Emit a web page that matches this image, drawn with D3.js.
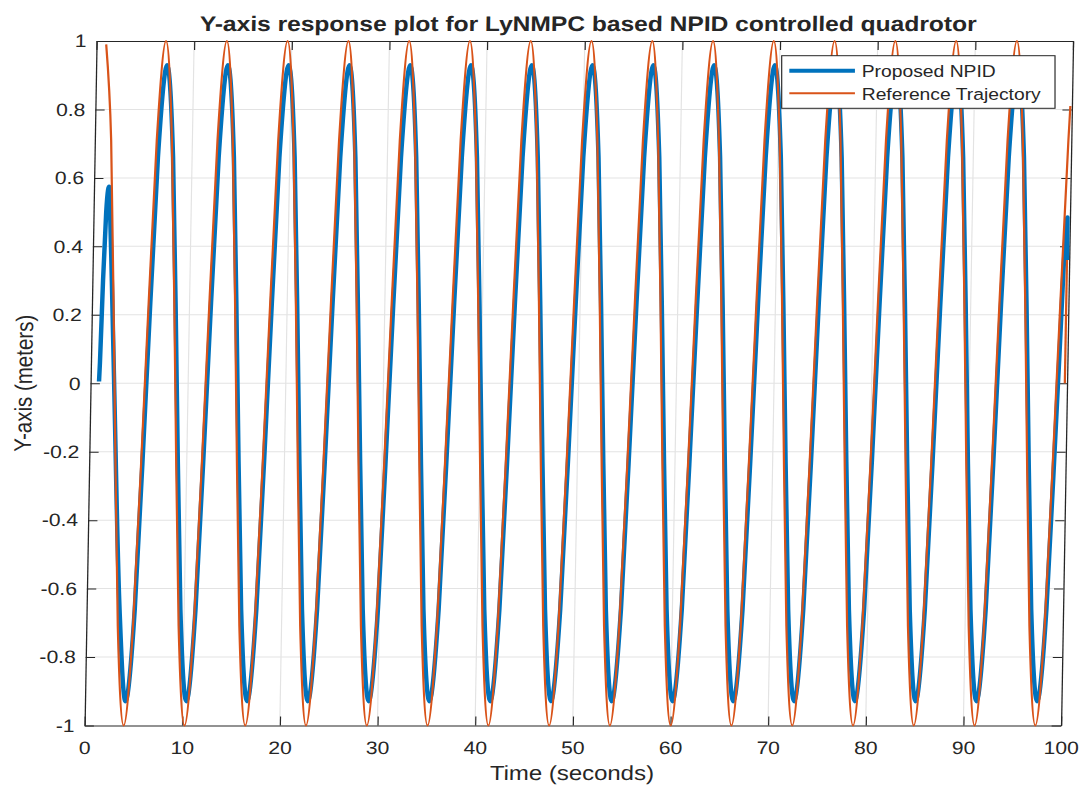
<!DOCTYPE html>
<html>
<head>
<meta charset="utf-8">
<script src="https://cdn.jsdelivr.net/npm/d3@7"></script>
<style>
  html, body { margin: 0; padding: 0; background: #ffffff; }
  svg { display: block; }
  text { font-family: "Liberation Sans", Arial, Helvetica, sans-serif; fill: #262626; }
</style>
</head>
<body>
<svg id="chart" width="1081" height="787"></svg>
<script>
// ---------------- data ----------------
const titleText = "Y-axis response plot for LyNMPC based NPID controlled quadrotor";
const xLabel = "Time (seconds)";
const yLabel = "Y-axis (meters)";
const seriesNames = ["Proposed NPID", "Reference Trajectory"];
const seriesColors = ["#0072BD", "#D95319"];

const xTicks = [0, 10, 20, 30, 40, 50, 60, 70, 80, 90, 100];
const xTickLabels = ["0", "10", "20", "30", "40", "50", "60", "70", "80", "90", "100"];
const yTicks = [-1, -0.8, -0.6, -0.4, -0.2, 0, 0.2, 0.4, 0.6, 0.8, 1];
const yTickLabels = ["-1", "-0.8", "-0.6", "-0.4", "-0.2", "0", "0.2", "0.4", "0.6", "0.8", "1"];

// Reference trajectory (peaks, troughs, crossings and mid points)
const refT = [1.00,
  1.68, 2.46, 3.23, 4.01, 4.79, 5.57, 6.35, 7.12, 7.90, 8.68, 9.46, 10.24, 11.01, 11.79, 12.57, 13.35,
  14.13, 14.90, 15.68, 16.46, 17.24, 18.02, 18.79, 19.57, 20.35, 21.13, 21.91, 22.68, 23.46, 24.24, 25.02, 25.80,
  26.57, 27.35, 28.13, 28.91, 29.69, 30.46, 31.24, 32.02, 32.80, 33.58, 34.35, 35.13, 35.91, 36.69, 37.47, 38.24,
  39.02, 39.80, 40.58, 41.36, 42.13, 42.91, 43.69, 44.47, 45.25, 46.02, 46.80, 47.58, 48.36, 49.14, 49.91, 50.69,
  51.47, 52.25, 53.03, 53.80, 54.58, 55.36, 56.14, 56.92, 57.69, 58.47, 59.25, 60.03, 60.81, 61.58, 62.36, 63.14,
  63.92, 64.70, 65.47, 66.25, 67.03, 67.81, 68.59, 69.36, 70.14, 70.92, 71.70, 72.48, 73.25, 74.03, 74.81, 75.59,
  76.37, 77.14, 77.92, 78.70, 79.48, 80.26, 81.03, 81.81, 82.59, 83.37, 84.15, 84.92, 85.70, 86.48, 87.26, 88.04,
  88.81, 89.59, 90.37, 91.15, 91.93, 92.70, 93.48, 94.26, 95.04, 95.82, 96.59, 97.37, 98.15, 98.93, 99.71,
  99.85];
const refY = [0.99,
  0.71, 0, -0.71, -1, -0.71, 0, 0.71, 1,
  0.71, 0, -0.71, -1, -0.71, 0, 0.71, 1,
  0.71, 0, -0.71, -1, -0.71, 0, 0.71, 1,
  0.71, 0, -0.71, -1, -0.71, 0, 0.71, 1,
  0.71, 0, -0.71, -1, -0.71, 0, 0.71, 1,
  0.71, 0, -0.71, -1, -0.71, 0, 0.71, 1,
  0.71, 0, -0.71, -1, -0.71, 0, 0.71, 1,
  0.71, 0, -0.71, -1, -0.71, 0, 0.71, 1,
  0.71, 0, -0.71, -1, -0.71, 0, 0.71, 1,
  0.71, 0, -0.71, -1, -0.71, 0, 0.71, 1,
  0.71, 0, -0.71, -1, -0.71, 0, 0.71, 1,
  0.71, 0, -0.71, -1, -0.71, 0, 0.71, 1,
  0.71, 0, -0.71, -1, -0.71, 0, 0.71, 1,
  0.71, 0, -0.71, -1, -0.71, 0, 0.71, 1,
  0.71, 0, -0.71, -1, -0.71, 0, 0.71, 1,
  0.71, 0, -0.71, -1, -0.71, 0, 0.71,
  0.81];
const refTailT = [99.78, 99.78];
const refTailY = [0.36, 0.0];

// Proposed NPID response
const npidT = [0.87, 0.93, 1.10, 1.30, 1.45, 1.55, 1.70, 2.00, 2.42,
  3.38, 4.16, 4.94, 5.72, 6.50, 7.27, 8.05, 8.83, 9.61, 10.39, 11.16, 11.94, 12.72, 13.50, 14.28, 15.05,
  15.83, 16.61, 17.39, 18.17, 18.94, 19.72, 20.50, 21.28, 22.06, 22.83, 23.61, 24.39, 25.17, 25.95, 26.72, 27.50,
  28.28, 29.06, 29.84, 30.61, 31.39, 32.17, 32.95, 33.73, 34.50, 35.28, 36.06, 36.84, 37.62, 38.39, 39.17, 39.95,
  40.73, 41.51, 42.28, 43.06, 43.84, 44.62, 45.40, 46.17, 46.95, 47.73, 48.51, 49.29, 50.06, 50.84, 51.62, 52.40,
  53.18, 53.95, 54.73, 55.51, 56.29, 57.07, 57.84, 58.62, 59.40, 60.18, 60.96, 61.73, 62.51, 63.29, 64.07, 64.85,
  65.62, 66.40, 67.18, 67.96, 68.74, 69.51, 70.29, 71.07, 71.85, 72.63, 73.40, 74.18, 74.96, 75.74, 76.52, 77.29,
  78.07, 78.85, 79.63, 80.41, 81.18, 81.96, 82.74, 83.52, 84.30, 85.07, 85.85, 86.63, 87.41, 88.19, 88.96, 89.74,
  90.52, 91.30, 92.08, 92.85, 93.63, 94.41, 95.19, 95.97, 96.74, 97.52, 98.30, 99.08,
  99.75, 99.77];
const npidY = [0.005, 0.06, 0.30, 0.50, 0.565, 0.575, 0.50, 0.30, 0,
  -0.66, -0.93, -0.66, 0, 0.66, 0.93, 0.66, 0,
  -0.66, -0.93, -0.66, 0, 0.66, 0.93, 0.66, 0,
  -0.66, -0.93, -0.66, 0, 0.66, 0.93, 0.66, 0,
  -0.66, -0.93, -0.66, 0, 0.66, 0.93, 0.66, 0,
  -0.66, -0.93, -0.66, 0, 0.66, 0.93, 0.66, 0,
  -0.66, -0.93, -0.66, 0, 0.66, 0.93, 0.66, 0,
  -0.66, -0.93, -0.66, 0, 0.66, 0.93, 0.66, 0,
  -0.66, -0.93, -0.66, 0, 0.66, 0.93, 0.66, 0,
  -0.66, -0.93, -0.66, 0, 0.66, 0.93, 0.66, 0,
  -0.66, -0.93, -0.66, 0, 0.66, 0.93, 0.66, 0,
  -0.66, -0.93, -0.66, 0, 0.66, 0.93, 0.66, 0,
  -0.66, -0.93, -0.66, 0, 0.66, 0.93, 0.66, 0,
  -0.66, -0.93, -0.66, 0, 0.66, 0.93, 0.66, 0,
  -0.66, -0.93, -0.66, 0, 0.66, 0.93, 0.66, 0,
  -0.66, -0.93, -0.66, 0, 0.66, 0.93, 0.66, 0,
  -0.66, -0.93, -0.66, 0,
  0.485, 0.36];

// ---------------- layout ----------------
const svg = d3.select("#chart");
svg.append("rect").attr("width", 1081).attr("height", 787).attr("fill", "#ffffff");

const plotW = 834.6, plotTop = 41, plotBottom = 725.5;
const sx = 1.17, shear = -0.01753, offX = 97.22;

const g = svg.append("g")
  .attr("transform", `matrix(${sx},0,${shear},1,${offX},0)`);

const x = d3.scaleLinear().domain([0, 100]).range([0, plotW]);
const y = d3.scaleLinear().domain([-1, 1]).range([plotBottom, plotTop]);

const gridColor = "#e3e3e3";
const axisColor = "#262626";

// grid
g.append("g").selectAll("line").data(xTicks.slice(1, -1)).join("line")
  .attr("x1", d => x(d)).attr("x2", d => x(d))
  .attr("y1", plotTop).attr("y2", plotBottom)
  .attr("stroke", gridColor).attr("stroke-width", 1);
g.append("g").selectAll("line").data(yTicks.slice(1, -1)).join("line")
  .attr("x1", 0).attr("x2", plotW)
  .attr("y1", d => y(d)).attr("y2", d => y(d))
  .attr("stroke", gridColor).attr("stroke-width", 1);

// axes
const fmtX = d => xTickLabels[xTicks.indexOf(d)];
const fmtY = d => yTickLabels[yTicks.indexOf(d)];

const axB = g.append("g").attr("transform", `translate(0,${plotBottom})`)
  .call(d3.axisBottom(x).tickValues(xTicks).tickFormat(fmtX).tickSize(-9).tickSizeOuter(0).tickPadding(16));
const axT = g.append("g").attr("transform", `translate(0,${plotTop})`)
  .call(d3.axisTop(x).tickValues(xTicks).tickFormat("").tickSize(-9).tickSizeOuter(0));
const axL = g.append("g")
  .call(d3.axisLeft(y).tickValues(yTicks).tickFormat(fmtY).tickSize(-8).tickSizeOuter(0).tickPadding(8.5));
const axR = g.append("g").attr("transform", `translate(${plotW},0)`)
  .call(d3.axisRight(y).tickValues(yTicks).tickFormat("").tickSize(-8).tickSizeOuter(0));

[axB, axT, axL, axR].forEach(a => {
  a.select(".domain").attr("stroke", axisColor).attr("stroke-width", 1.1);
  a.selectAll(".tick line").attr("stroke", axisColor).attr("stroke-width", 1);
  a.selectAll("text").attr("fill", axisColor).style("font-size", "18px")
    .style("font-family", '"Liberation Sans", Arial, Helvetica, sans-serif');
});

// series
const line = d3.line().x(d => x(d[0])).y(d => y(d[1])).curve(d3.curveMonotoneX);
const lineLin = d3.line().x(d => x(d[0])).y(d => y(d[1]));
const pts = (tArr, vArr) => d3.range(Math.min(tArr.length, vArr.length)).map(i => [tArr[i], vArr[i]]);

g.append("path").datum(pts(npidT, npidY)).attr("d", line)
  .attr("fill", "none").attr("stroke", seriesColors[0]).attr("stroke-width", 3.8)
  .attr("stroke-linejoin", "round");
g.append("path").datum(pts(refT, refY)).attr("d", line)
  .attr("fill", "none").attr("stroke", seriesColors[1]).attr("stroke-width", 1.9)
  .attr("stroke-linejoin", "round");
g.append("path").datum(pts(refTailT, refTailY)).attr("d", lineLin)
  .attr("fill", "none").attr("stroke", seriesColors[1]).attr("stroke-width", 1.9);

// labels
g.append("text").attr("x", 420).attr("y", 31).attr("text-anchor", "middle")
  .style("font-size", "21px").style("font-weight", "bold").attr("fill", "#000").text(titleText);
g.append("text").attr("x", plotW / 2).attr("y", 780).attr("text-anchor", "middle")
  .style("font-size", "20.5px").text(xLabel);
g.append("text").attr("transform", `translate(-50,${(plotTop + plotBottom) / 2}) rotate(-90)`)
  .attr("text-anchor", "middle").style("font-size", "20.5px").text(yLabel);

// legend
const lg = svg.append("g").attr("transform", "translate(781.7,55.7) scale(1.17,1)");
lg.append("rect").attr("x", 0).attr("y", 0).attr("width", 233.6).attr("height", 52.6)
  .attr("fill", "#ffffff").attr("stroke", axisColor).attr("stroke-width", 1);
const legW = [4, 2];
const legY = [15, 37.6];
seriesNames.forEach((name, i) => {
  lg.append("line").attr("x1", 6.5).attr("x2", 62.6).attr("y1", legY[i]).attr("y2", legY[i])
    .attr("stroke", seriesColors[i]).attr("stroke-width", legW[i]);
  lg.append("text").attr("x", 68.4).attr("y", legY[i] + 6.3)
    .style("font-size", "16.5px").attr("fill", "#000").text(name);
});
</script>
</body>
</html>
